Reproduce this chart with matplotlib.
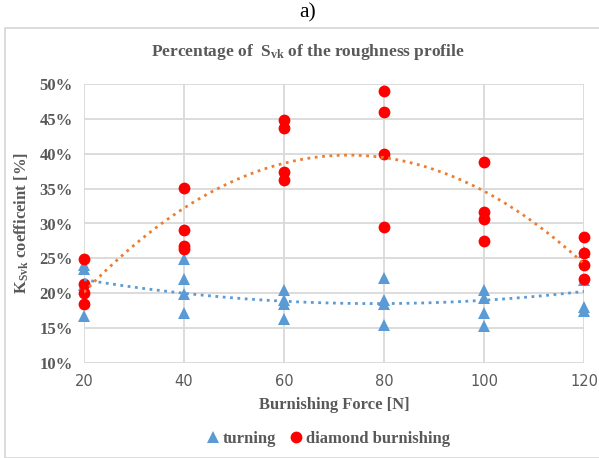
import matplotlib.pyplot as plt
import numpy as np
from matplotlib.patches import Rectangle
from matplotlib.ticker import PercentFormatter

plt.rcParams['mathtext.fontset'] = 'custom'
plt.rcParams['mathtext.rm'] = 'Liberation Serif:bold'
plt.rcParams['mathtext.it'] = 'Liberation Serif:bold'
plt.rcParams['mathtext.bf'] = 'Liberation Serif:bold'

forces = [20, 40, 60, 80, 100, 120]
# four measurements per burnishing force, in percent
turning = [
    [24.1, 23.5, 21.2, 16.8],
    [24.9, 22.0, 19.9, 17.2],
    [20.5, 19.0, 18.5, 16.3],
    [22.2, 19.1, 18.4, 15.4],
    [20.4, 19.3, 17.1, 15.3],
    [25.9, 21.9, 18.0, 17.4],
]
burnishing = [
    [24.9, 21.3, 20.0, 18.4],
    [35.1, 29.0, 26.8, 26.4],
    [44.8, 43.7, 37.4, 36.2],
    [49.0, 46.0, 40.0, 29.5],
    [38.8, 31.7, 30.7, 27.5],
    [28.0, 25.8, 24.1, 22.1],
]

grey = '#595959'
blue = '#5b9bd5'
orange = '#ed7d31'
red = '#ff0000'
serif = 'Liberation Serif'

fig = plt.figure(figsize=(5.99, 4.58), dpi=100)
fig.patches.append(Rectangle((5/599, 0), 1, 1 - 28/458, transform=fig.transFigure,
                             fill=False, edgecolor='#d9d9d9', lw=1.3))
fig.text(0.514, 0.973, 'a)', ha='center', va='center', fontsize=15.5, family=serif)

ax = fig.add_axes([84/599, 1 - 363/458, 500/599, 279/458])

xt = np.repeat(forces, [len(v) for v in turning])
yt = np.concatenate(turning)
xb = np.repeat(forces, [len(v) for v in burnishing])
yb = np.concatenate(burnishing)

ax.plot(xt, yt, ls='none', marker='^', ms=9, color=blue, mew=0, label='turning',
        zorder=3, clip_on=False)
ax.plot(xb, yb, ls='none', marker='o', ms=8.5, color=red, mew=0, label='diamond burnishing',
        zorder=4, clip_on=False)

xs = np.linspace(20, 120, 200)
ax.plot(xs, np.polyval(np.polyfit(xt, yt, 2), xs), ls=':', lw=2, color=blue, zorder=5)
ax.plot(xs, np.polyval(np.polyfit(xb, yb, 2), xs), ls=':', lw=2, color=orange, zorder=5)

ax.set_xlim(20, 120)
ax.set_ylim(10, 50)
ax.set_xticks(forces)
ax.set_yticks(range(10, 51, 5))
ax.yaxis.set_major_formatter(PercentFormatter(decimals=0))
ax.grid(color='#d9d9d9', lw=1.3)
ax.set_axisbelow(True)
for s in ax.spines.values():
    s.set_visible(False)
ax.tick_params(length=0, pad=8)
for lab in ax.get_xticklabels():
    lab.set(family='DejaVu Sans', fontsize=10.5, color=grey)
for lab in ax.get_yticklabels():
    lab.set(family=serif, fontweight='bold', fontsize=12, color=grey)

fig.text(308/599, 1 - 52/458, r'Percentage of  $\mathrm{S_{vk}}$ of the roughness profile',
         ha='center', va='center', family=serif, fontweight='bold', fontsize=12.5, color=grey)
ax.set_xlabel('Burnishing Force [N]', family=serif, fontweight='bold', fontsize=12,
              color=grey, labelpad=6)
ax.set_ylabel(r'K$_{\mathrm{Svk}}$ coefficeint [%]', family=serif, fontweight='bold',
              fontsize=12, color=grey, labelpad=6)

ax.legend(loc='upper center', bbox_to_anchor=(0.485, -0.19), ncol=2, frameon=False,
          handletextpad=0.0, columnspacing=0.6, handlelength=1.2,
          prop={'family': serif, 'weight': 'bold', 'size': 12}, labelcolor=grey)

fig.savefig('out.png', dpi=100)
